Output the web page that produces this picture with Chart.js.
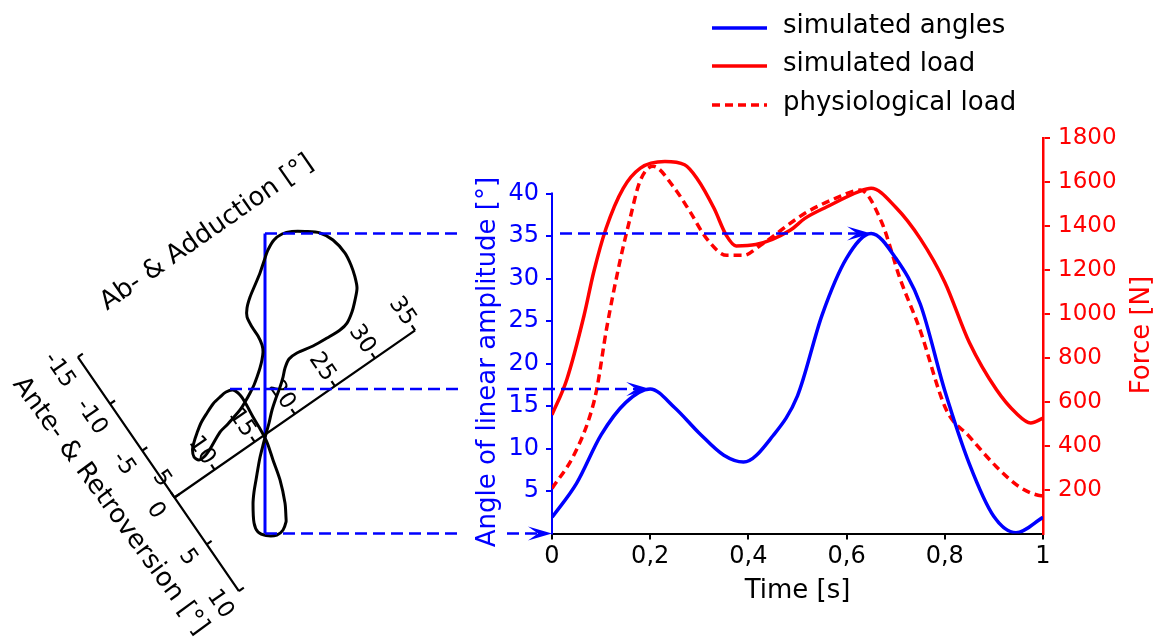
<!DOCTYPE html>
<html><head><meta charset="utf-8">
<script src="https://cdn.jsdelivr.net/npm/chart.js@4.4.0/dist/chart.umd.min.js"></script>
<style>html,body{margin:0;padding:0;background:#fff;}canvas{display:block;}</style>
</head><body>
<canvas id="c" width="1163" height="642"></canvas>
<script>
// ---------------- data ----------------
const angleTime = [0,0.05,0.1,0.15,0.2,0.25,0.3,0.35,0.39,0.45,0.5,0.55,0.6,0.65,0.7,0.75,0.8,0.85,0.9,0.945,1];
const simulatedAngles = [1.9,5.9,11.6,15.4,17.0,14.8,11.8,9.2,8.4,11.5,16.2,25.7,32.4,35.3,32.4,27.0,16.8,8.2,2.0,0.1,1.9];

const loadTime = [0,0.03,0.065,0.085,0.11,0.145,0.18,0.23,0.27,0.295,0.33,0.355,0.375,0.415,0.485,0.515,0.56,0.625,0.65,0.7,0.75,0.8,0.85,0.905,0.945,0.975,1];
const simulatedLoad = [540,700,990,1190,1388,1571,1663,1693,1678,1617,1480,1357,1309,1315,1380,1434,1487,1556,1571,1485,1342,1144,869,655,548,503,525];

const physTime = [0,0.043,0.077,0.091,0.111,0.138,0.159,0.179,0.206,0.247,0.281,0.315,0.356,0.39,0.424,0.515,0.577,0.628,0.671,0.709,0.749,0.803,0.85,0.905,0.952,0.99,1];
const physiologicalLoad = [205,350,533,655,930,1235,1434,1602,1671,1579,1465,1342,1266,1266,1311,1457,1525,1563,1419,1159,930,563,441,304,212,174,172];

const xTicks = [0,0.2,0.4,0.6,0.8,1];
const xTickLabels = ['0','0,2','0,4','0,6','0,8','1'];
const angleTicks = [5,10,15,20,25,30,35,40];
const forceTicks = [200,400,600,800,1000,1200,1400,1600,1800];

// left diagram: hip trajectory in (Ab-/Adduction, Ante-/Retroversion) degrees
const abdTicks = [5,10,15,20,25,30,35];
const anteTicks = [-15,-10,-5,0,5,10];
const loopAbd = [13.22,14.00,14.92,15.49,15.94,16.09,16.22,16.30,16.46,16.48,
 16.18,15.47,14.67,13.68,12.65,11.56,10.64,9.87,9.28,9.00,
 9.24,9.98,10.81,12.64,13.64,14.69,15.61,16.49,17.44,18.24,
 18.96,19.73,20.36,20.91,21.24,21.42,21.44,21.60,22.12,23.01,
 24.13,25.25,26.28,27.26,28.34,29.37,30.35,31.45,32.63,33.32,
 33.58,33.39,33.03,32.56,31.69,30.74,29.68,28.69,27.13,25.48,
 23.72,22.70,21.84,21.15,20.32,19.34,18.31,17.30,16.41,15.52,
 14.57,13.76,12.89,12.03,11.25,10.23,10.04,10.51,11.47,12.27,
 12.99,13.22];
const loopAnte = [7.08,5.95,4.03,2.23,0.90,0.24,-0.85,-1.88,-3.17,-4.12,
 -4.83,-5.04,-4.98,-4.83,-4.48,-4.06,-3.53,-3.03,-2.53,-1.95,
 -1.48,-1.47,-1.72,-2.45,-2.61,-2.83,-3.04,-3.36,-3.76,-4.14,
 -4.57,-5.07,-5.55,-6.07,-6.63,-7.48,-8.43,-9.41,-10.06,-10.70,
 -11.32,-11.94,-12.60,-13.20,-13.62,-13.65,-13.33,-12.68,-11.82,-10.66,
 -9.11,-7.95,-6.88,-5.98,-5.21,-4.50,-3.95,-3.80,-3.87,-4.00,
 -4.30,-4.26,-3.81,-3.26,-2.69,-2.10,-1.43,-0.64,0.00,0.65,
 1.37,2.06,2.83,3.59,4.41,5.84,6.69,7.34,7.86,7.80,
 7.37,7.08];

// projected amplitude levels and the times they are reached
const projectionLevels = [35.3, 17.0, 0];
const projectionTimes = [0.65, 0.2, 0];

// ---------------- layout / style ----------------
const FONT = '"DejaVu Sans"';
const BLUE = '#0000ff', RED = '#ff0000';
const W = 1163, H = 642;
const AREA = {left:552, right:1043, top:138, bottom:533.5};
const Y_MAX = 46.53;            // left axis units matching 1800 N on the right axis
const ORIGIN = {x:174.5, y:497.5}; // pixel of (abd 5, ante 0) in the left diagram
const AB0 = 5;
const AB_VEC = {x:8.02, y:5.57};    // px per degree ab/adduction (y up)
const ANTE_VEC = {x:6.44, y:-9.36}; // px per degree ante/retroversion (y up)
const ARROW_START = [90.5, 55.5, 90.5]; // diagram x-offsets where projection lines start
const AMP_AXIS_X = 90.5;
const GAP = {titleL:463, titleR:507, labelR:560};

function proj(abd, ante){
  return {x:(abd-AB0)*AB_VEC.x + ante*ANTE_VEC.x, y:(abd-AB0)*AB_VEC.y + ante*ANTE_VEC.y};
}
const pts = (xs, ys) => xs.map((t,i)=>({x:t, y:ys[i]}));

function arrowHead(c, x, y){
  c.beginPath(); c.moveTo(x,y); c.lineTo(x-24,y-7); c.lineTo(x-14,y); c.lineTo(x-24,y+7); c.closePath(); c.fill();
}

const figurePlugin = {
  id:'figure',
  beforeDatasetsDraw(chart){
    const c = chart.ctx, lx = chart.scales.lx, ly = chart.scales.ly, y = chart.scales.y;
    const P = (a,r)=>{const p=proj(a,r); return {X:lx.getPixelForValue(p.x), Y:ly.getPixelForValue(p.y)};};
    c.save();
    const a0 = P(abdTicks[0],0), a1 = P(abdTicks[abdTicks.length-1],0);
    const r0 = P(AB0,anteTicks[0]), r1 = P(AB0,anteTicks[anteTicks.length-1]);
    const la = Math.hypot(a1.X-a0.X,a1.Y-a0.Y), lr = Math.hypot(r1.X-r0.X,r1.Y-r0.Y);
    const aU = {x:(a1.X-a0.X)/la, y:(a1.Y-a0.Y)/la};
    const rU = {x:(r1.X-r0.X)/lr, y:(r1.Y-r0.Y)/lr};
    const labelRot = Math.atan2(rU.y, rU.x);
    c.strokeStyle='#000'; c.lineWidth=2.2; c.lineCap='butt';
    c.beginPath(); c.moveTo(a0.X,a0.Y); c.lineTo(a1.X,a1.Y); c.moveTo(r0.X,r0.Y); c.lineTo(r1.X,r1.Y); c.stroke();
    c.fillStyle='#000'; c.font='23px '+FONT; c.textAlign='center'; c.textBaseline='middle';
    abdTicks.forEach(v=>{
      const p = P(v,0);
      c.beginPath(); c.moveTo(p.X,p.Y); c.lineTo(p.X-rU.x*6,p.Y-rU.y*6); c.stroke();
      c.save(); c.translate(p.X-rU.x*23, p.Y-rU.y*23); c.rotate(labelRot); c.fillText(String(v),0,0); c.restore();
    });
    anteTicks.forEach(v=>{
      const p = P(AB0,v);
      c.beginPath(); c.moveTo(p.X,p.Y); c.lineTo(p.X+aU.x*6,p.Y+aU.y*6); c.stroke();
      c.save(); c.translate(p.X-aU.x*23, p.Y-aU.y*23); c.rotate(labelRot); c.fillText(String(v),0,0); c.restore();
    });
    c.font='26px '+FONT;
    c.save(); c.translate(207,233); c.rotate(Math.atan2(aU.y,aU.x)); c.fillText('Ab- & Adduction [°]',0,0); c.restore();
    c.save(); c.translate(110,506); c.rotate(labelRot-0.03); c.fillText('Ante- & Retroversion [°]',0,0); c.restore();
    const ax = lx.getPixelForValue(AMP_AXIS_X);
    c.strokeStyle=BLUE; c.lineWidth=3;
    c.beginPath(); c.moveTo(ax, y.getPixelForValue(0)); c.lineTo(ax, y.getPixelForValue(projectionLevels[0])); c.stroke();
    c.lineWidth=2;
    c.beginPath(); c.moveTo(chart.chartArea.left, y.getPixelForValue(0)+1); c.lineTo(chart.chartArea.left, y.getPixelForValue(angleTicks[angleTicks.length-1])-1); c.stroke();
    c.restore();
  },
  afterDatasetsDraw(chart){
    const c = chart.ctx, lx = chart.scales.lx, x = chart.scales.x, y = chart.scales.y;
    c.save();
    c.strokeStyle=BLUE; c.fillStyle=BLUE; c.lineWidth=2.5;
    projectionLevels.forEach((lv,i)=>{
      const yy = y.getPixelForValue(lv);
      const xs = lx.getPixelForValue(ARROW_START[i]);
      const xt = x.getPixelForValue(projectionTimes[i]);
      const near = angleTicks.some(t=>Math.abs(t-lv)<1.5);
      const xr = near ? GAP.labelR : GAP.titleR;
      c.setLineDash([12,6]);
      c.beginPath(); c.moveTo(xs,yy); c.lineTo(GAP.titleL,yy); c.stroke();
      c.beginPath(); c.moveTo(xr,yy); c.lineTo(xt-14,yy); c.stroke();
      c.setLineDash([]);
      arrowHead(c, xt, yy);
    });
    c.restore();
  },
  afterDraw(chart){
    const c = chart.ctx;
    c.save();
    c.textAlign='center'; c.textBaseline='middle'; c.font='26px '+FONT;
    c.fillStyle=BLUE;
    c.save(); c.translate(488,362); c.rotate(-Math.PI/2); c.fillText('Angle of linear amplitude [°]',0,0); c.restore();
    c.fillStyle=RED;
    c.save(); c.translate(1142,335); c.rotate(-Math.PI/2); c.fillText('Force [N]',0,0); c.restore();
    const rows = [28,66,105];
    chart.data.datasets.slice(0,3).forEach((ds,i)=>{
      c.strokeStyle=ds.borderColor; c.lineWidth=3.5; c.setLineDash(ds.borderDash||[]);
      c.beginPath(); c.moveTo(712,rows[i]); c.lineTo(767,rows[i]); c.stroke();
      c.setLineDash([]);
      c.fillStyle='#000'; c.textAlign='left'; c.textBaseline='alphabetic';
      c.fillText(ds.label, 783, rows[i]+5);
    });
    c.restore();
  }
};

new Chart(document.getElementById('c'), {
  type:'line',
  data:{datasets:[
    {label:'simulated angles', data:pts(angleTime,simulatedAngles), xAxisID:'x', yAxisID:'y',
     borderColor:BLUE, borderWidth:3.5, pointRadius:0, cubicInterpolationMode:'monotone', order:1},
    {label:'simulated load', data:pts(loadTime,simulatedLoad), xAxisID:'x', yAxisID:'y1',
     borderColor:RED, borderWidth:3.5, pointRadius:0, cubicInterpolationMode:'monotone', order:2},
    {label:'physiological load', data:pts(physTime,physiologicalLoad), xAxisID:'x', yAxisID:'y1',
     borderColor:RED, borderWidth:3.5, borderDash:[8,5], pointRadius:0, cubicInterpolationMode:'monotone', order:3},
    {label:'hip trajectory', data:loopAbd.map((a,i)=>proj(a,loopAnte[i])), xAxisID:'lx', yAxisID:'ly',
     borderColor:'#000', borderWidth:3, pointRadius:0, tension:0.3, capBezierPoints:false, clip:false, order:4}
  ]},
  options:{
    responsive:false, animation:false, devicePixelRatio:1,
    layout:{padding:{left:AREA.left-92, right:0, top:AREA.top, bottom:0}},
    plugins:{legend:{display:false}, tooltip:{enabled:false}},
    scales:{
      x:{type:'linear', position:'bottom', min:0, max:1,
         afterBuildTicks:s=>{s.ticks = xTicks.map(v=>({value:v}));},
         afterFit:s=>{s.height = H-AREA.bottom;},
         ticks:{callback:(v,i)=>xTickLabels[i], color:'#000', font:{family:'DejaVu Sans',size:24}, padding:3, maxRotation:0, autoSkip:false},
         grid:{drawOnChartArea:false, tickLength:6, color:'#000', lineWidth:2},
         border:{display:true, color:'#000', width:2},
         title:{display:true, text:'Time [s]', color:'#000', font:{family:'DejaVu Sans',size:26}, padding:{top:0,bottom:35}}},
      y:{type:'linear', position:'left', min:0, max:Y_MAX,
         afterBuildTicks:s=>{s.ticks = angleTicks.map(v=>({value:v}));},
         afterFit:s=>{s.width = 92;},
         ticks:{callback:v=>String(v), color:BLUE, font:{family:'DejaVu Sans',size:24}, padding:7},
         grid:{drawOnChartArea:false, tickLength:6, color:BLUE, lineWidth:2},
         border:{display:false}},
      y1:{type:'linear', position:'right', min:0, max:1800,
         afterBuildTicks:s=>{s.ticks = forceTicks.map(v=>({value:v}));},
         afterFit:s=>{s.width = W-AREA.right;},
         ticks:{callback:v=>String(v), color:RED, font:{family:'DejaVu Sans',size:23}, padding:8},
         grid:{drawOnChartArea:false, tickLength:7, color:RED, lineWidth:2},
         border:{display:true, color:RED, width:2.5}},
      lx:{type:'linear', display:false, position:'bottom', min:AREA.left-ORIGIN.x, max:AREA.right-ORIGIN.x},
      ly:{type:'linear', display:false, position:'left', min:ORIGIN.y-AREA.bottom, max:ORIGIN.y-AREA.top}
    }
  },
  plugins:[figurePlugin]
});
</script>
</body></html>
